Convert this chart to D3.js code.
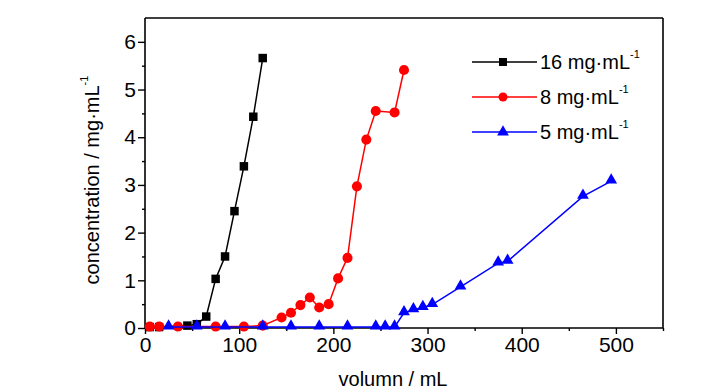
<!DOCTYPE html>
<html><head><meta charset="utf-8">
<script src="https://cdn.jsdelivr.net/npm/d3@7"></script>
<style>body{margin:0;background:#fff}svg{display:block}text{font-family:"Liberation Sans",Arial,sans-serif}</style>
</head><body><svg id="c" width="728" height="390"></svg>
<script>
const blackX = [5, 15, 45, 55, 65, 75, 85, 95, 105, 115, 125];
const blackY = [0.02, 0.02, 0.05, 0.08, 0.24, 1.03, 1.50, 2.45, 3.39, 4.43, 5.66];
const redX = [5, 15, 35, 75, 105, 125, 145, 155, 165, 175, 185, 195, 205, 215, 225, 235, 245, 265, 275];
const redY = [0.03, 0.03, 0.03, 0.03, 0.03, 0.05, 0.22, 0.32, 0.48, 0.64, 0.43, 0.50, 1.04, 1.47, 2.97, 3.95, 4.55, 4.52, 5.41];
const blueX = [25, 55, 85, 125, 155, 185, 215, 245, 255, 265, 275, 285, 295, 305, 335, 375, 385, 465, 495];
const blueY = [0.02, 0.02, 0.02, 0.02, 0.02, 0.02, 0.02, 0.02, 0.02, 0.02, 0.32, 0.38, 0.43, 0.49, 0.86, 1.36, 1.40, 2.76, 3.08];
const seriesNames = ["16 mg·mL", "8 mg·mL", "5 mg·mL"];
const xTicks = [0, 100, 200, 300, 400, 500];
const yTicks = [0, 1, 2, 3, 4, 5, 6];
const xLabel = "volumn / mL";
const yLabel = "concentration / mg·mL";

const svg = d3.select("#c");
const L = 145, R = 663, T = 18, B = 328;
const x = d3.scaleLinear().domain([0, 550]).range([L, R]);
const y = d3.scaleLinear().domain([0, 6.5]).range([B, T]);

const series = [
  {name: seriesNames[0], xs: blackX, ys: blackY, color: "#000000", shape: "square"},
  {name: seriesNames[1], xs: redX, ys: redY, color: "#ff0000", shape: "circle"},
  {name: seriesNames[2], xs: blueX, ys: blueY, color: "#0000ff", shape: "triangle"}
];

// frame top/right
svg.append("line").attr("x1", L).attr("x2", R).attr("y1", T).attr("y2", T).attr("stroke", "#000").attr("stroke-width", 1.6);
svg.append("line").attr("x1", R).attr("x2", R).attr("y1", T).attr("y2", B).attr("stroke", "#000").attr("stroke-width", 1.6);

// axes
const fs = 21;
const xAxis = svg.append("g").attr("transform", `translate(0,${B})`)
  .call(d3.axisBottom(x).tickValues(xTicks).tickSize(6).tickPadding(3).tickFormat(d3.format("d")));
svg.append("g").attr("transform", `translate(0,${B})`)
  .call(d3.axisBottom(x).tickValues(d3.range(50, 551, 100)).tickSize(3).tickFormat(""))
  .select(".domain").remove();
const yAxis = svg.append("g").attr("transform", `translate(${L},0)`)
  .call(d3.axisLeft(y).tickValues(yTicks).tickSize(7).tickPadding(2).tickFormat(d3.format("d")));
svg.append("g").attr("transform", `translate(${L},0)`)
  .call(d3.axisLeft(y).tickValues(d3.range(0.5, 6.5, 1)).tickSize(3).tickFormat(""))
  .select(".domain").remove();
svg.selectAll(".domain").attr("stroke-width", 1.6).attr("d", null);
xAxis.select(".domain").attr("d", `M${L},0H${R}`);
yAxis.select(".domain").attr("d", `M0,${B}V${T}`);
svg.selectAll(".tick line").attr("stroke-width", 1.4);
svg.selectAll(".tick text").attr("font-size", fs).attr("font-family", "Liberation Sans, Arial, sans-serif").attr("fill", "#000");

// lines & markers
const line = d3.line().x(d => x(d[0])).y(d => y(d[1]));
const sym = {square: d3.symbolSquare, circle: d3.symbolCircle, triangle: d3.symbolTriangle};
const symSize = {square: 72, circle: 80, triangle: 60};
series.forEach(s => {
  const pts = s.xs.map((v, i) => [v, s.ys[i]]);
  svg.append("path").datum(pts).attr("d", line).attr("fill", "none").attr("stroke", s.color).attr("stroke-width", 1.5);
  svg.append("g").selectAll("path").data(pts).join("path")
    .attr("transform", d => `translate(${x(d[0])},${y(d[1]) + (s.shape === "triangle" ? -1 : 0)})`)
    .attr("d", d3.symbol().type(sym[s.shape]).size(symSize[s.shape]))
    .attr("fill", s.color);
});

// legend
const lg = svg.append("g");
series.forEach((s, i) => {
  const cy = 62 + i * 35;
  lg.append("line").attr("x1", 472).attr("x2", 537).attr("y1", cy).attr("y2", cy).attr("stroke", s.color).attr("stroke-width", 1.5);
  lg.append("path").attr("transform", `translate(503,${cy})`)
    .attr("d", d3.symbol().type(sym[s.shape]).size(s.shape === "triangle" ? 60 : 64)).attr("fill", s.color);
  const t = lg.append("text").attr("x", 540).attr("y", cy + 7).attr("font-size", 20).attr("fill", "#000").text(s.name);
  t.append("tspan").attr("dy", -11).attr("font-size", 11).text("-1");
});

// axis labels
svg.append("text").attr("x", 393).attr("y", 386).attr("text-anchor", "middle").attr("font-size", 20).attr("fill", "#000").text(xLabel);
const yl = svg.append("text").attr("transform", "translate(99,180) rotate(-90)").attr("text-anchor", "middle").attr("font-size", 20).attr("fill", "#000").text(yLabel);
yl.append("tspan").attr("dy", -11).attr("font-size", 11).text("-1");
</script></body></html>
